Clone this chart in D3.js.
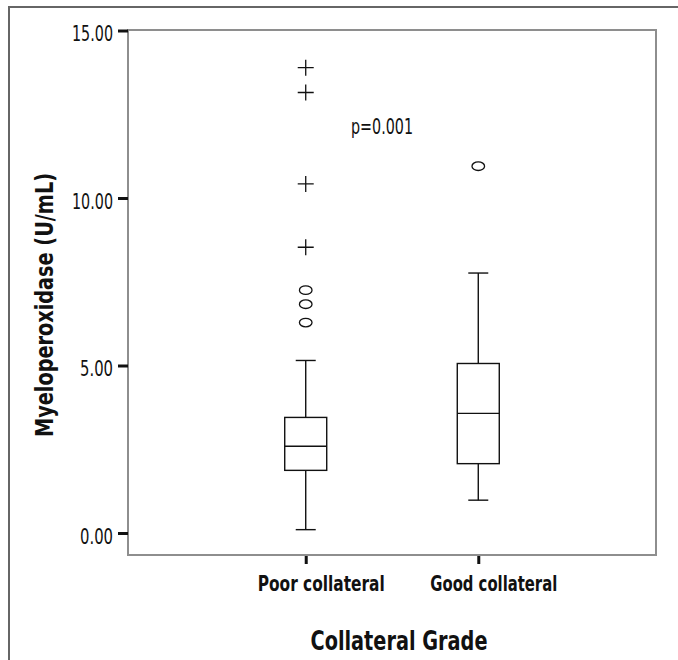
<!DOCTYPE html>
<html>
<head>
<meta charset="utf-8">
<script src="https://cdn.jsdelivr.net/npm/d3@7"></script>
<style>
  body { margin: 0; background: #fff; }
  svg text { font-family: 'Liberation Sans Narrow', 'DejaVu Sans Condensed', 'Arial Narrow', sans-serif; fill: #111; }
</style>
</head>
<body>
<svg id="chart" width="678" height="660"></svg>
<script>
const categories = ['Poor collateral', 'Good collateral'];
const whiskerLow = [0.10, 0.98];
const q1 = [1.87, 2.07];
const median = [2.59, 3.57];
const q3 = [3.45, 5.06];
const whiskerHigh = [5.15, 7.76];
// circles = outliers, crosses = extremes
const outliers = [[7.25, 6.83, 6.28], [10.95]];
const extremes = [[13.89, 13.15, 10.42, 8.53], []];
const yTicks = [0, 5, 10, 15];
const pLabel = 'p=0.001';

const svg = d3.select('#chart');

const frame = { left: 128, right: 656, top: 30, bottom: 555 };

const x = d3.scalePoint()
  .domain(categories)
  .range([frame.left, frame.right])
  .padding(1.03);

const y = d3.scaleLinear()
  .domain([0, 15])
  .range([533, 30.5]);

// outer border (top + left only)
svg.append('path')
  .attr('d', 'M9,660 V7 H678')
  .attr('fill', 'none')
  .attr('stroke', '#666')
  .attr('stroke-width', 2);

// plot frame
svg.append('rect')
  .attr('x', frame.left)
  .attr('y', frame.top)
  .attr('width', frame.right - frame.left)
  .attr('height', frame.bottom - frame.top)
  .attr('fill', 'none')
  .attr('stroke', '#8e8e8e')
  .attr('stroke-width', 2);

// y axis
const yAxis = d3.axisLeft(y)
  .tickValues(yTicks)
  .tickSize(10)
  .tickFormat(d3.format('.2f'));

const ya = svg.append('g')
  .attr('transform', `translate(${frame.left},0)`)
  .call(yAxis);
ya.select('.domain').remove();
ya.selectAll('.tick line').attr('stroke', '#111').attr('stroke-width', 3);
ya.selectAll('.tick text')
  .attr('x', -15)
  .attr('dy', '0.48em')
  .attr('textLength', d => d >= 10 ? 41 : 33)
  .attr('lengthAdjust', 'spacingAndGlyphs')
  .style('font-size', '21.5px');

// x axis
const xAxis = d3.axisBottom(x).tickSize(8).tickSizeOuter(0);
const xa = svg.append('g')
  .attr('transform', `translate(0,${frame.bottom + 1})`)
  .call(xAxis);
xa.select('.domain').remove();
xa.selectAll('.tick line').attr('stroke', '#111').attr('stroke-width', 3);
xa.selectAll('.tick text')
  .attr('x', 15)
  .attr('y', 35)
  .attr('dy', 0)
  .attr('textLength', 127)
  .attr('lengthAdjust', 'spacingAndGlyphs')
  .style('font-size', '21px')
  .style('font-weight', 'bold');

// boxes
const boxW = 42, capW = 20;
const g = svg.append('g')
  .selectAll('g')
  .data(categories)
  .join('g');

g.append('line')
  .attr('x1', d => x(d)).attr('x2', d => x(d))
  .attr('y1', (d, i) => y(whiskerLow[i]))
  .attr('y2', (d, i) => y(whiskerHigh[i]))
  .attr('stroke', '#111').attr('stroke-width', 1.4);

g.append('rect')
  .attr('x', d => x(d) - boxW / 2)
  .attr('y', (d, i) => y(q3[i]))
  .attr('width', boxW)
  .attr('height', (d, i) => y(q1[i]) - y(q3[i]))
  .attr('fill', '#fff')
  .attr('stroke', '#111').attr('stroke-width', 1.4);

g.append('line')
  .attr('x1', d => x(d) - boxW / 2).attr('x2', d => x(d) + boxW / 2)
  .attr('y1', (d, i) => y(median[i])).attr('y2', (d, i) => y(median[i]))
  .attr('stroke', '#111').attr('stroke-width', 1.4);

['low', 'high'].forEach(k => {
  const arr = k === 'low' ? whiskerLow : whiskerHigh;
  g.append('line')
    .attr('x1', d => x(d) - capW / 2).attr('x2', d => x(d) + capW / 2)
    .attr('y1', (d, i) => y(arr[i])).attr('y2', (d, i) => y(arr[i]))
    .attr('stroke', '#111').attr('stroke-width', 1.4);
});

// outlier circles
g.selectAll('ellipse')
  .data((d, i) => outliers[i].map(v => ({ cat: d, v })))
  .join('ellipse')
  .attr('cx', d => x(d.cat))
  .attr('cy', d => y(d.v))
  .attr('rx', 6.3)
  .attr('ry', 4.3)
  .attr('fill', 'none')
  .attr('stroke', '#111')
  .attr('stroke-width', 1.3);

// extreme crosses
g.selectAll('path.cross')
  .data((d, i) => extremes[i].map(v => ({ cat: d, v })))
  .join('path')
  .attr('class', 'cross')
  .attr('d', d => {
    const cx = x(d.cat), cy = y(d.v);
    return `M${cx - 8},${cy} H${cx + 8} M${cx},${cy - 8} V${cy + 8}`;
  })
  .attr('fill', 'none')
  .attr('stroke', '#111')
  .attr('stroke-width', 1.3);

// annotation
svg.append('text')
  .attr('x', 351)
  .attr('y', 134)
  .attr('textLength', 62)
  .attr('lengthAdjust', 'spacingAndGlyphs')
  .style('font-size', '21px')
  .text(pLabel);

// axis titles
svg.append('text')
  .attr('x', 399)
  .attr('y', 650)
  .attr('text-anchor', 'middle')
  .attr('textLength', 177)
  .attr('lengthAdjust', 'spacingAndGlyphs')
  .style('font-size', '26px')
  .style('font-weight', 'bold')
  .text('Collateral Grade');

svg.append('text')
  .attr('transform', 'translate(53,305) rotate(-90)')
  .attr('text-anchor', 'middle')
  .attr('textLength', 264)
  .attr('lengthAdjust', 'spacingAndGlyphs')
  .style('font-size', '25px')
  .style('font-weight', 'bold')
  .text('Myeloperoxidase (U/mL)');
</script>
</body>
</html>
